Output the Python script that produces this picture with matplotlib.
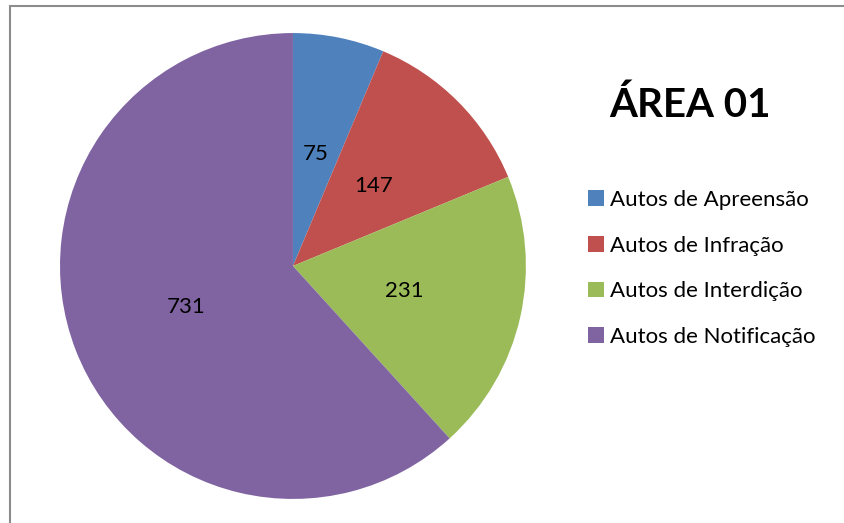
import matplotlib
matplotlib.use('Agg')
import matplotlib.pyplot as plt
from matplotlib.patches import Rectangle

labels = ['Autos de Apreensão', 'Autos de Infração', 'Autos de Interdição', 'Autos de Notificação']
values = [75, 147, 231, 731]
colors = ['#4F81BD', '#C0504D', '#9BBB59', '#8064A2']
title = 'ÁREA 01'

plt.rcParams['font.family'] = ['Lato', 'DejaVu Sans']

fig = plt.figure(figsize=(8.44, 5.23), dpi=100)

# gray frame like the spreadsheet chart area
fig.patches.append(Rectangle((10/844, -0.1), 1.2, 1 - 6/523 + 0.1, transform=fig.transFigure,
                             fill=False, edgecolor='#8c8c8c', linewidth=1.5))

ax = fig.add_axes([0.0711, 0.0459, 0.552, 0.891])
wedges, texts = ax.pie(values, colors=colors, startangle=90, counterclock=False,
                       labels=[str(v) for v in values], labeldistance=0.49,
                       textprops={'fontsize': 16, 'color': '#000000'})
for t in texts:
    t.set_horizontalalignment('center')
    t.set_verticalalignment('center')
ax.set_xlim(-1, 1)
ax.set_ylim(-1, 1)
ax.set_aspect('equal')

fig.text(690/844, 1 - 105/523, title, fontsize=29, fontweight='bold', ha='center', va='center')

fig.legend(wedges, labels, loc='upper left', bbox_to_anchor=(588/844, 1 - 190/523),
           frameon=False, fontsize=16, labelspacing=1.15, handlelength=0.7,
           handleheight=0.7, handletextpad=0.3, borderpad=0, borderaxespad=0)

plt.savefig('out.png', dpi=100)
